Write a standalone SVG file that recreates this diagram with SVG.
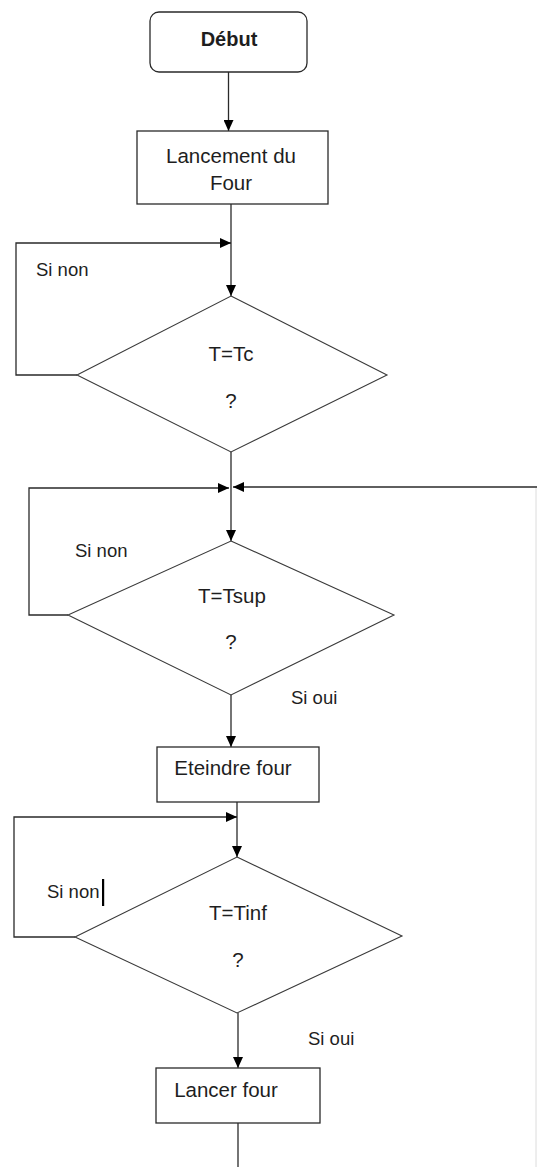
<svg xmlns="http://www.w3.org/2000/svg" width="537" height="1167" viewBox="0 0 537 1167">
  <style>
    .box { fill: #fff; stroke: #2a2a2a; stroke-width: 1.3; }
    .dia { fill: #fff; stroke: #3a3a3a; stroke-width: 1.1; }
    .wire { fill: none; stroke: #2a2a2a; stroke-width: 1.3; }
    .txt { font-family: "Liberation Sans", Arial, sans-serif; font-size: 20.5px; fill: #1e1e1e; }
    .lbl { font-size: 18.5px; }
    .mid { text-anchor: middle; }
    .bold { font-weight: bold; font-size: 20px; }
  </style>
  <defs>
    <marker id="arrow" markerUnits="userSpaceOnUse" markerWidth="11" markerHeight="10" refX="11" refY="5" orient="auto">
      <path d="M0,0 L11,5 L0,10 z" fill="#000"/>
    </marker>
  </defs>

  <rect width="537" height="1167" fill="#fff"/>

  <!-- connectors -->
  <g id="connectors">
    <line class="wire" x1="228.5" y1="72" x2="228.5" y2="131" marker-end="url(#arrow)"/>
    <line class="wire" x1="231" y1="204" x2="231" y2="296" marker-end="url(#arrow)"/>
    <!-- loop back on T=Tc -->
    <polyline class="wire" points="77,375 16,375 16,243 231,243" marker-end="url(#arrow)"/>
    <line class="wire" x1="231" y1="452" x2="231" y2="541" marker-end="url(#arrow)"/>
    <!-- loop back on T=Tsup -->
    <polyline class="wire" points="68,615 29,615 29,488 229,488" marker-end="url(#arrow)"/>
    <!-- return from the right -->
    <line class="wire" x1="537" y1="487" x2="233" y2="487" marker-end="url(#arrow)"/>
    <line x1="536" y1="488" x2="536" y2="1167" stroke="#dcdcdc" stroke-width="1"/>
    <line class="wire" x1="231" y1="695" x2="231" y2="747" marker-end="url(#arrow)"/>
    <line class="wire" x1="237" y1="802" x2="237" y2="857" marker-end="url(#arrow)"/>
    <!-- loop back on T=Tinf -->
    <polyline class="wire" points="75,937 14,937 14,817 237,817" marker-end="url(#arrow)"/>
    <line class="wire" x1="238" y1="1013" x2="238" y2="1068" marker-end="url(#arrow)"/>
    <line class="wire" x1="238" y1="1123" x2="238" y2="1167"/>
  </g>

  <g id="debut">
    <rect class="box" x="150" y="12" width="157" height="60" rx="9"/>
    <text class="txt mid bold" x="229" y="46">Début</text>
  </g>

  <g id="lancement">
    <rect class="box" x="137" y="131" width="191" height="73"/>
    <text class="txt mid" x="231" y="163">Lancement du</text>
    <text class="txt mid" x="231" y="190">Four</text>
  </g>

  <g id="test-tc">
    <polygon class="dia" points="231,296 387,375 231,452 77,375"/>
    <text class="txt mid" x="231" y="361">T=Tc</text>
    <text class="txt mid" x="231" y="408">?</text>
    <text class="txt lbl" x="36" y="276">Si non</text>
  </g>

  <g id="test-tsup">
    <polygon class="dia" points="231,541 394,615 231,695 68,615"/>
    <text class="txt mid" x="232" y="603">T=Tsup</text>
    <text class="txt mid" x="231" y="649">?</text>
    <text class="txt lbl" x="75" y="557">Si non</text>
    <text class="txt lbl" x="291" y="704">Si oui</text>
  </g>

  <g id="eteindre">
    <rect class="box" x="157" y="747" width="162" height="55"/>
    <text class="txt mid" x="233" y="775">Eteindre four</text>
  </g>

  <g id="test-tinf">
    <polygon class="dia" points="237,857 402,936 237,1013 75,937"/>
    <text class="txt mid" x="238" y="920">T=Tinf</text>
    <text class="txt mid" x="238" y="967">?</text>
    <text class="txt lbl" x="47" y="898">Si non</text>
    <rect x="102" y="879" width="2.2" height="27" fill="#000"/>
    <text class="txt lbl" x="308" y="1045">Si oui</text>
  </g>

  <g id="lancer">
    <rect class="box" x="156" y="1068" width="164" height="55"/>
    <text class="txt mid" x="226" y="1097">Lancer four</text>
  </g>
</svg>
